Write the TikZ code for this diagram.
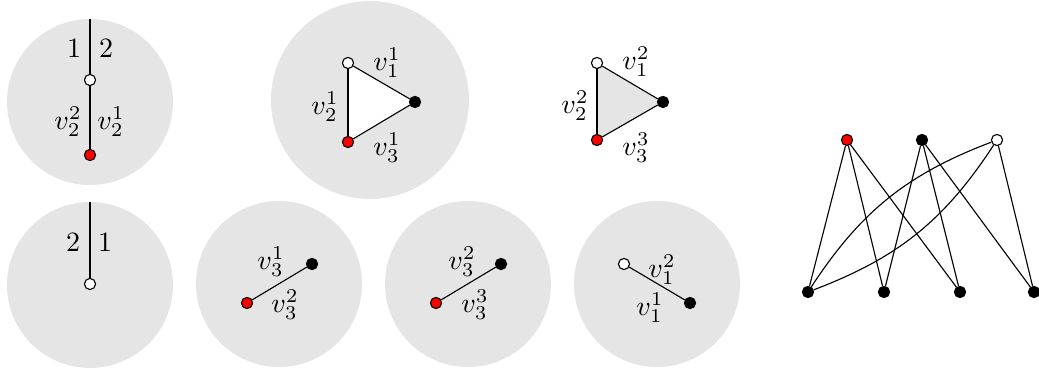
\documentclass[tikz,border=0pt]{standalone}
\usepackage{amsmath}
\usetikzlibrary{backgrounds}

\begin{document}
\begin{tikzpicture}[
		x=1.256cm, y=-1.256cm,
		gray disk/.style={fill=black!10},
		vtx/.style={
			draw,
			circle,
			inner sep=0pt,
			minimum size=1.4mm
		},
		red vtx/.style={vtx, fill=red},
		black vtx/.style={vtx, fill=black},
		white vtx/.style={vtx, fill=white},
		lbl/.style={inner sep=0pt}
		]
		
		\useasboundingbox (0,0) rectangle (10.39,3.72);
		
		% grey disks
		\begin{scope}[on background layer]
			\fill[gray disk] (0.90,1.02) circle (0.83);
			\fill[gray disk] (3.70,1.00) circle (0.99);
			\fill[gray disk] (0.90,2.85) circle (0.83);
			\fill[gray disk] (2.79,2.84) circle (0.83);
			\fill[gray disk] (4.68,2.84) circle (0.83);
			\fill[gray disk] (6.57,2.84) circle (0.83);
		\end{scope}
		
		% top left disk
		\coordinate (a top) at (0.90,0.19);
		
		\node (a w) [white vtx] at (0.90,0.80) {};
		
		\node (a r) [red vtx] at (0.90,1.55) {};
		
		\draw (a top)--(a w);
		\draw (a w)--(a r);
		
		\node (a one) [lbl] at (0.74,0.48) {$1$};
		\node (a two) [lbl] at (1.06,0.48) {$2$};
		\node (a v22) [lbl] at (0.68,1.22) {$v_2^2$};
		\node (a v21) [lbl] at (1.11,1.22) {$v_2^1$};
		
		% triangle in the big disk
		\node (b w) [white vtx] at (3.48,0.63) {};
		
		\node (b k) [black vtx] at (4.15,1.02) {};
		
		\node (b r) [red vtx] at (3.48,1.42) {};
		
		\begin{scope}[on background layer]
			\fill[white] (b w.center)--(b k.center)--(b r.center)--cycle;
		\end{scope}
		
		\draw (b w)--(b k);
		\draw (b k)--(b r);
		\draw (b r)--(b w);
		
		\node (b v11) [lbl] at (3.87,0.63) {$v_1^1$};
		\node (b v21) [lbl] at (3.25,1.07) {$v_2^1$};
		\node (b v31) [lbl] at (3.87,1.48) {$v_3^1$};
		
		% grey triangle
		\node (c w) [white vtx] at (5.97,0.63) {};
		
		\node (c k) [black vtx] at (6.63,1.02) {};
		
		\node (c r) [red vtx] at (5.97,1.40) {};
		
		\begin{scope}[on background layer]
			\fill[gray disk] (c w.center)--(c k.center)--(c r.center)--cycle;
		\end{scope}
		
		\draw (c w)--(c k);
		\draw (c k)--(c r);
		\draw (c r)--(c w);
		
		\node (c v12) [lbl] at (6.36,0.62) {$v_1^2$};
		\node (c v22) [lbl] at (5.75,1.06) {$v_2^2$};
		\node (c v33) [lbl] at (6.36,1.48) {$v_3^3$};
		
		% bottom left disk
		\coordinate (d top) at (0.90,2.02);
		
		\node (d w) [white vtx] at (0.90,2.84) {};
		
		\draw (d top)--(d w);
		
		\node (d two) [lbl] at (0.73,2.42) {$2$};
		\node (d one) [lbl] at (1.05,2.42) {$1$};
		
		% edge v3 (1,2)
		\node (e r) [red vtx] at (2.47,3.03) {};
		
		\node (e k) [black vtx] at (3.12,2.64) {};
		
		\draw (e r)--(e k);
		
		\node (e v31) [lbl] at (2.71,2.62) {$v_3^1$};
		\node (e v32) [lbl] at (2.85,3.05) {$v_3^2$};
		
		% edge v3 (2,3)
		\node (f r) [red vtx] at (4.36,3.03) {};
		
		\node (f k) [black vtx] at (5.01,2.64) {};
		
		\draw (f r)--(f k);
		
		\node (f v32) [lbl] at (4.62,2.62) {$v_3^2$};
		\node (f v33) [lbl] at (4.75,3.05) {$v_3^3$};
		
		% edge v1
		\node (g w) [white vtx] at (6.24,2.64) {};
		
		\node (g k) [black vtx] at (6.90,3.03) {};
		
		\draw (g w)--(g k);
		
		\node (g v12) [lbl] at (6.62,2.70) {$v_1^2$};
		\node (g v11) [lbl] at (6.50,3.08) {$v_1^1$};
		
		% bipartite graph
		\node (t1) [red vtx] at (8.47,1.40) {};
		\node (t2) [black vtx] at (9.22,1.40) {};
		\node (t3) [white vtx] at (9.97,1.40) {};
		
		\node (u1) [black vtx] at (8.08,2.92) {};
		\node (u2) [black vtx] at (8.84,2.92) {};
		\node (u3) [black vtx] at (9.60,2.92) {};
		\node (u4) [black vtx] at (10.34,2.92) {};
		
		\draw (t1)--(u1);
		\draw (t1)--(u2);
		\draw (t1)--(u3);
		\draw (t2)--(u2);
		\draw (t2)--(u3);
		\draw (t2)--(u4);
		\draw (t3)--(u4);
		\draw (u1) to[bend left=18] (t3);
		\draw (u1) to[bend right=18] (t3);
		
	\end{tikzpicture}
\end{document}
